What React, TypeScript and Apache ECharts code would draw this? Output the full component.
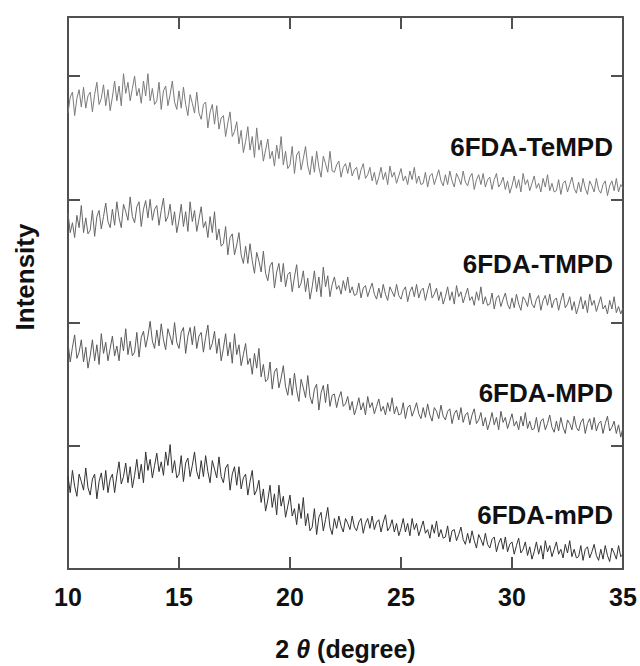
import React, { useEffect, useRef } from "react";
import * as echarts from "echarts";

const X_START = 10;
const X_STEP = 0.1;
const X_TICKS = [10, 15, 20, 25, 30, 35];

const seriesNames = ["6FDA-mPD", "6FDA-MPD", "6FDA-TMPD", "6FDA-TeMPD"];

const mPD = [
  75,62,80,67,59,77,71,64,82,66,
  60,73,77,57,71,78,64,80,62,73,
  77,62,76,87,69,75,86,70,83,66,
  76,89,73,85,70,95,80,89,74,84,
  94,79,87,76,95,84,101,78,88,74,
  77,92,71,86,90,75,84,95,79,73,
  88,75,92,79,70,88,81,74,91,75,
  70,82,85,64,77,83,68,83,65,74,
  77,60,71,80,60,64,72,54,65,47,
  56,68,50,61,44,68,51,59,42,51,
  60,43,49,36,53,41,58,35,45,31,
  34,49,28,42,46,31,40,50,34,28,
  41,33,43,35,30,41,37,32,43,34,
  31,38,41,29,37,41,33,43,32,38,
  40,30,38,44,31,34,40,30,37,27,
  33,41,30,37,27,41,32,37,27,33,
  39,29,32,25,36,29,39,26,32,25,
  26,35,22,31,32,23,28,34,24,20,
  29,21,31,23,17,28,24,19,29,20,
  17,24,26,14,21,25,16,26,14,20,
  22,12,19,25,13,16,22,11,18,8,
  14,22,12,19,8,23,14,19,10,16,
  22,12,16,9,20,13,23,10,16,9,
  10,19,7,16,18,9,14,20,11,7,
  16,8,19,11,6,17,13,8,19,10,
  12,
];

const MPD = [
  184,168,180,190,171,176,186,168,180,163,
  173,186,169,182,166,191,175,184,169,179,
  189,173,181,169,188,177,195,174,185,173,
  176,192,172,188,193,180,189,201,185,179,
  194,181,199,186,178,195,189,182,200,184,
  179,192,196,175,189,196,182,197,179,189,
  192,176,188,198,178,183,193,175,187,169,
  179,191,173,184,167,191,174,182,165,174,
  183,166,171,158,175,163,179,156,166,152,
  154,168,146,160,163,147,155,165,148,141,
  155,141,159,145,136,154,147,139,157,140,
  134,146,150,129,143,149,135,150,132,141,
  142,131,139,144,132,134,140,129,136,125,
  131,139,129,135,125,140,131,135,126,132,
  138,128,132,125,135,128,139,126,132,125,
  126,135,122,131,133,124,129,135,126,122,
  131,123,134,125,120,131,128,122,133,124,
  121,128,130,118,126,129,121,131,119,125,
  127,117,125,130,118,121,127,116,123,113,
  119,127,117,123,113,128,119,123,114,120,
  126,116,120,113,124,116,127,114,120,113,
  114,123,111,120,122,113,118,125,115,111,
  120,112,123,115,110,121,118,113,124,115,
  112,119,122,110,118,122,113,123,112,118,
  120,110,118,124,112,115,120,110,117,107,
  115,
];

const TMPD = [
  289,273,281,269,287,277,295,273,285,272,
  275,291,270,286,291,276,286,297,282,277,
  292,279,298,285,277,296,290,283,302,286,
  281,294,298,278,292,299,285,300,283,292,
  295,279,291,301,282,286,296,279,290,273,
  283,296,278,290,274,298,282,291,274,284,
  294,277,282,269,286,273,290,267,276,262,
  264,278,255,269,272,255,263,273,255,248,
  262,248,264,250,240,257,250,241,258,240,
  234,246,249,228,241,248,233,248,229,239,
  241,225,237,247,228,232,242,225,236,219,
  229,242,225,237,221,245,229,238,221,231,
  237,227,230,223,234,226,237,224,229,222,
  223,232,220,228,230,221,227,232,223,219,
  228,220,231,223,218,229,225,221,231,222,
  219,226,229,217,225,229,221,231,220,226,
  228,218,226,232,220,223,228,218,225,215,
  221,229,218,225,215,230,221,225,216,222,
  228,218,221,214,225,218,229,215,221,214,
  215,224,211,220,222,213,219,224,215,211,
  220,212,223,215,210,221,218,213,224,215,
  212,219,222,210,218,222,214,223,212,218,
  220,210,218,224,212,215,221,210,217,207,
  213,221,211,218,208,223,214,218,209,215,
  221,211,214,207,218,211,221,208,213,207,
  212,
];

const TeMPD = [
  370,383,387,368,382,389,375,391,374,384,
  387,371,385,395,377,382,393,376,389,372,
  383,396,380,392,376,402,386,395,380,390,
  400,384,390,378,396,384,402,380,390,377,
  380,395,373,388,392,376,385,396,379,373,
  388,374,391,377,368,385,378,370,387,370,
  365,377,379,358,371,377,361,376,357,366,
  368,351,362,371,351,355,363,345,356,338,
  347,359,340,351,334,358,340,348,331,340,
  349,333,339,327,344,333,351,328,339,325,
  328,343,321,336,339,324,333,343,327,320,
  335,322,339,326,318,335,329,322,339,323,
  322,328,331,318,326,329,321,330,319,324,
  326,316,324,329,317,320,326,315,322,312,
  318,326,316,322,312,327,318,322,313,319,
  325,315,319,312,323,316,326,313,319,312,
  313,322,310,319,321,312,318,324,315,311,
  320,312,323,315,310,321,317,312,323,314,
  311,318,321,308,316,320,312,321,310,316,
  318,308,316,321,310,313,318,308,315,305,
  311,319,309,316,306,321,312,316,307,313,
  319,309,313,306,317,310,320,307,313,306,
  307,316,304,313,315,306,312,318,309,305,
  314,306,317,309,304,315,311,306,317,308,
  305,312,315,303,311,315,307,317,306,312,
  309,
];

const seriesValues = [mPD, MPD, TMPD, TeMPD];
const seriesColors = ["#333333", "#5a5a5a", "#666666", "#7a7a7a"];
const labelY = [515, 393, 264, 147];

const FONT = '"Liberation Sans", Arial, Helvetica, sans-serif';
const AXIS_COLOR = "#505050";

function toPairs(vals: number[]) {
  return vals.map((v, i) => [+(X_START + i * X_STEP).toFixed(1), v]);
}

export default function App() {
  const ref = useRef<HTMLDivElement>(null);
  useEffect(() => {
    if (!ref.current) return;
    const chart = echarts.init(ref.current, undefined, { renderer: "svg" });
    const xBase = {
      type: "value" as const,
      min: 10,
      max: 35,
      interval: 5,
      axisLine: { show: true, onZero: false, lineStyle: { color: AXIS_COLOR, width: 2 } },
      axisTick: { show: true, inside: true, length: 12, lineStyle: { color: AXIS_COLOR, width: 2 } },
      splitLine: { show: false },
    };
    const yBase = {
      type: "value" as const,
      min: 0,
      max: 448,
      interval: 100,
      axisLine: { show: true, onZero: false, lineStyle: { color: AXIS_COLOR, width: 2 } },
      axisTick: { show: true, inside: true, length: 12, lineStyle: { color: AXIS_COLOR, width: 2 } },
      axisLabel: { show: false },
      splitLine: { show: false },
    };
    chart.setOption({
      animation: false,
      backgroundColor: "#ffffff",
      grid: { left: 68, right: 17, top: 17, bottom: 96, containLabel: false },
      xAxis: [
        {
          ...xBase,
          position: "bottom",
          axisLabel: {
            show: true,
            margin: 15,
            fontSize: 25,
            fontWeight: "bold",
            fontFamily: FONT,
            color: "#111",
            formatter: (v: number) => (X_TICKS.includes(v) ? String(v) : ""),
          },
          name: "{a|2 }{b|θ}{a| (degree)}",
          nameLocation: "middle",
          nameGap: 67,
          nameTextStyle: {
            rich: {
              a: { fontSize: 25, fontWeight: "bold", fontFamily: FONT, color: "#111" },
              b: { fontSize: 25, fontWeight: "bold", fontStyle: "italic", fontFamily: FONT, color: "#111" },
            },
          },
        },
        { ...xBase, position: "top", axisLabel: { show: false } },
      ],
      yAxis: [
        { ...yBase, position: "left" },
        { ...yBase, position: "right" },
      ],
      graphic: [
        {
          type: "text",
          x: 25,
          y: 277,
          rotation: Math.PI / 2,
          style: {
            text: "Intensity",
            fontSize: 26,
            fontWeight: "bold",
            fontFamily: FONT,
            fill: "#111",
            align: "center",
            verticalAlign: "middle",
          },
        },
        ...seriesNames.map((n, i) => ({
          type: "text",
          x: 613,
          y: labelY[i],
          style: {
            text: n,
            fontSize: 26,
            fontWeight: "bold",
            fontFamily: FONT,
            fill: "#111",
            align: "right",
            verticalAlign: "middle",
          },
        })),
      ],
      series: seriesNames.map((n, i) => ({
        name: n,
        type: "line",
        data: toPairs(seriesValues[i]),
        showSymbol: false,
        symbol: "none",
        lineStyle: { color: seriesColors[i], width: 1 },
        z: 2,
      })),
    });
    return () => chart.dispose();
  }, []);
  return <div ref={ref} style={{ width: 640, height: 666, position: "absolute", left: 0, top: 0 }} />;
}
